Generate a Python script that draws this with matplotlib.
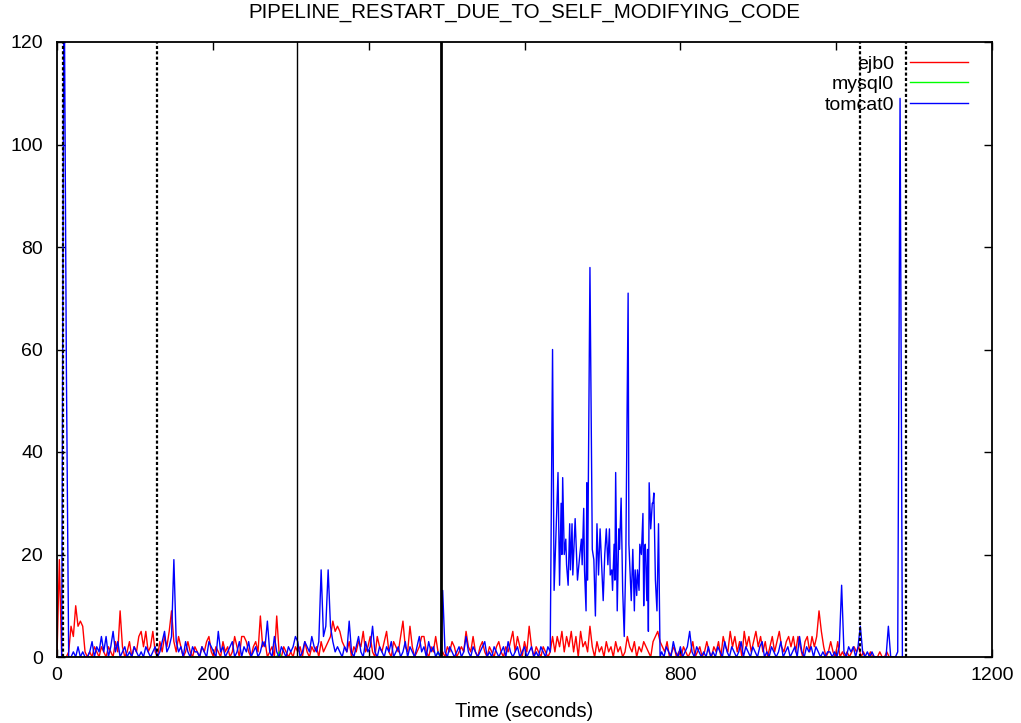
import numpy as np
import matplotlib
matplotlib.use("Agg")
import matplotlib.pyplot as plt

# ---------------- data ----------------
title = "PIPELINE_RESTART_DUE_TO_SELF_MODIFYING_CODE"
x_label = "Time (seconds)"
series_names = ["ejb0", "mysql0", "tomcat0"]
series_colors = ["#ff0000", "#00ff00", "#0000ff"]
x_ticks = [0, 200, 400, 600, 800, 1000, 1200]
y_ticks = [0, 20, 40, 60, 80, 100, 120]

# ejb0 sampled every 3 s from t=0 to t=1077
ejb_t = np.arange(0, 1080, 3)
ejb_v = [
    0, 19, 0, 0, 0, 1, 6, 4, 10, 6, 7, 6, 1, 0, 1, 0, 2, 1, 0, 2,
    1, 0, 2, 1, 0, 3, 1, 9, 2, 0, 1, 3, 0, 2, 1, 4, 5, 2, 5, 1,
    2, 5, 1, 0, 3, 1, 4, 2, 5, 9, 3, 1, 4, 2, 0, 1, 3, 1, 0, 2,
    1, 0, 2, 1, 3, 4, 1, 0, 2, 1, 0, 3, 1, 2, 0, 1, 4, 2, 0, 4,
    4, 3, 1, 0, 2, 3, 1, 8, 2, 3, 0, 1, 2, 0, 8, 1, 0, 2, 1, 0,
    1, 0, 2, 1, 2, 0, 3, 1, 0, 2, 1, 2, 0, 3, 1, 2, 3, 4, 7, 5,
    6, 5, 3, 2, 1, 3, 0, 2, 1, 3, 2, 5, 1, 2, 4, 1, 0, 4, 2, 1,
    3, 5, 1, 0, 3, 2, 1, 4, 7, 2, 1, 6, 2, 0, 1, 2, 4, 4, 1, 0,
    2, 1, 4, 1, 0, 1, 0, 2, 1, 3, 2, 0, 1, 2, 1, 5, 2, 1, 4, 1,
    0, 2, 3, 1, 0, 2, 1, 0, 2, 3, 1, 0, 2, 1, 3, 5, 1, 4, 2, 0,
    3, 1, 6, 2, 0, 2, 1, 0, 2, 1, 0, 1, 4, 1, 4, 2, 5, 1, 4, 2,
    5, 1, 4, 0, 5, 2, 3, 1, 6, 2, 0, 3, 1, 2, 0, 3, 1, 2, 0, 3,
    1, 2, 0, 1, 4, 2, 1, 3, 0, 2, 1, 3, 2, 1, 0, 3, 4, 5, 3, 2,
    1, 3, 0, 1, 2, 0, 1, 0, 2, 1, 0, 1, 3, 0, 1, 2, 0, 1, 3, 1,
    0, 2, 1, 3, 0, 4, 2, 1, 5, 2, 4, 1, 3, 0, 5, 2, 4, 1, 3, 5,
    2, 4, 1, 3, 0, 2, 4, 1, 3, 5, 2, 1, 3, 4, 2, 4, 1, 4, 2, 0,
    3, 4, 1, 4, 2, 4, 9, 5, 2, 0, 1, 3, 1, 0, 3, 0, 1, 0, 1, 0,
    1, 2, 1, 2, 0, 1, 0, 0, 1, 0, 0, 0, 1, 0, 0, 1, 0, 0, 0, 0,
]

# mysql0: flat at zero apart from a couple of tiny blips
mysql_t = [0, 282, 285, 288, 486, 489, 492, 1077]
mysql_v = [0, 0, 1, 0, 0, 1, 0, 0]

# tomcat0, part A: every 3 s from t=0 to t=633
tomcat_a_t = np.arange(0, 636, 3)
tomcat_a_v = [
    0, 0, 0, 140, 57, 0, 0, 1, 0, 2, 0, 1, 0, 0, 1, 3, 0, 2, 1, 4,
    1, 4, 0, 2, 5, 1, 3, 0, 1, 2, 0, 1, 0, 2, 1, 0, 1, 0, 2, 1,
    0, 1, 2, 0, 1, 3, 5, 1, 2, 4, 19, 3, 1, 2, 0, 3, 1, 0, 2, 1,
    1, 0, 2, 1, 0, 3, 2, 1, 0, 5, 1, 2, 0, 1, 2, 3, 0, 1, 3, 0,
    2, 1, 3, 0, 1, 2, 0, 1, 3, 2, 7, 1, 0, 4, 1, 0, 2, 1, 0, 2,
    1, 2, 4, 3, 0, 1, 3, 2, 1, 4, 2, 1, 3, 17, 4, 6, 17, 6, 3, 1,
    2, 1, 0, 2, 1, 7, 1, 0, 2, 4, 1, 0, 3, 1, 2, 6, 1, 0, 2, 1,
    0, 2, 1, 3, 0, 1, 2, 0, 1, 3, 0, 2, 1, 0, 2, 4, 1, 2, 0, 3,
    1, 2, 0, 1, 0, 13, 1, 0, 2, 1, 0, 1, 2, 0, 1, 4, 1, 0, 2, 1,
    0, 1, 2, 3, 0, 1, 0, 2, 1, 0, 1, 2, 0, 3, 1, 0, 1, 2, 0, 1,
    2, 0, 1, 2, 0, 1, 0, 2, 1, 0, 2, 1,
]

# tomcat0, part B: the burst between ~636 s and ~774 s
tomcat_b_t = [
    636, 638, 643, 645, 647, 648, 649, 651, 653, 654, 656, 658, 659,
    661, 662, 665, 668, 671, 673, 674, 676, 677, 679, 680, 681, 684,
    687, 689, 691, 693, 695, 697, 699, 701, 703, 705, 707, 709, 710,
    712, 713, 715, 716, 717, 719, 721, 722, 724, 726, 728, 730, 733,
    734, 737, 739, 741, 742, 744, 745, 747, 748, 750, 752, 753, 754,
    755, 757, 758, 759, 760, 762, 764, 765, 766, 768, 770, 772, 774,
]
tomcat_b_v = [
    60, 13, 36, 14, 30, 20, 35, 20, 23, 18, 14, 26, 17,
    26, 16, 27, 15, 20, 23, 18, 29, 17, 9, 34, 15, 76,
    21, 19, 8, 26, 16, 25, 18, 11, 20, 25, 18, 25, 16,
    17, 13, 22, 15, 36, 9, 25, 21, 31, 13, 4, 19, 71,
    22, 11, 21, 9, 17, 12, 17, 13, 22, 20, 28, 10, 21,
    22, 11, 21, 5, 34, 25, 30, 30, 32, 15, 9, 26, 0,
]

# tomcat0, part C: every 3 s from t=776 to t=1085
tomcat_c_t = np.arange(776, 1086, 3)
tomcat_c_v = [
    1, 0, 2, 1, 0, 3, 1, 0, 2, 0, 1, 2, 5, 1, 0, 2, 1, 0, 1, 0,
    2, 0, 1, 0, 2, 1, 0, 3, 1, 0, 2, 1, 0, 1, 3, 0, 2, 1, 0, 2,
    1, 0, 2, 3, 0, 1, 0, 2, 1, 0, 1, 3, 0, 1, 2, 0, 1, 2, 0, 4,
    1, 0, 2, 1, 2, 0, 2, 1, 0, 1, 0, 1, 1, 0, 1, 0, 2, 14, 1, 0,
    2, 1, 2, 0, 2, 6, 1, 0, 1, 0, 1, 0, 0, 0, 0, 0, 0, 6, 0, 0,
    0, 1, 109, 0,
]

# vertical event markers (time, style)
event_times = [7.7, 128.4, 308, 493, 1031, 1090]
event_styles = ["dotted", "dotted", "thin", "thick", "dotted", "dotted"]

# ---------------- plot ----------------
plt.rcParams["font.family"] = ["Liberation Sans", "DejaVu Sans"]
fig = plt.figure(figsize=(10.21, 7.23), dpi=100)
ax = fig.add_axes([57 / 1021, 1 - 657 / 723, 935 / 1021, 615 / 723])

tomcat_t = np.concatenate([tomcat_a_t, tomcat_b_t, tomcat_c_t])
tomcat_v = np.concatenate([tomcat_a_v, tomcat_b_v, tomcat_c_v])

ax.plot(ejb_t, ejb_v, color=series_colors[0], lw=1.0, label=series_names[0])
ax.plot(mysql_t, mysql_v, color=series_colors[1], lw=1.0, label=series_names[1])
ax.plot(tomcat_t, tomcat_v, color=series_colors[2], lw=1.0, label=series_names[2])

for t, s in zip(event_times, event_styles):
    if s == "dotted":
        ax.axvline(t, color="black", lw=1.6, dashes=(1.4, 1.0))
    elif s == "thin":
        ax.axvline(t, color="black", lw=1.0)
    else:
        ax.axvline(t, color="black", lw=2.0)

ax.set_xlim(0, 1200)
ax.set_ylim(0, 120)
ax.set_xticks(x_ticks)
ax.set_yticks(y_ticks)
ax.tick_params(direction="in", length=6, width=1.0, top=True, right=True,
               labelsize=14, colors="black")
ax.tick_params(axis="x", pad=7)
ax.tick_params(axis="y", pad=10)
for sp in ax.spines.values():
    sp.set_linewidth(1.3)
    sp.set_color("black")

ax.set_xlabel(x_label, fontsize=14.5, labelpad=13)
fig.text(524 / 1021, 1 - 12 / 723, title, ha="center", va="center", fontsize=14.8)

leg = ax.legend(loc="upper right", bbox_to_anchor=((968 - 57) / 935, (657 - 55) / 615),
                frameon=False, markerfirst=False, fontsize=14, handlelength=3.0,
                handletextpad=0.8, borderpad=0, borderaxespad=0, labelspacing=0.15)

fig.savefig("out.png", dpi=100)
